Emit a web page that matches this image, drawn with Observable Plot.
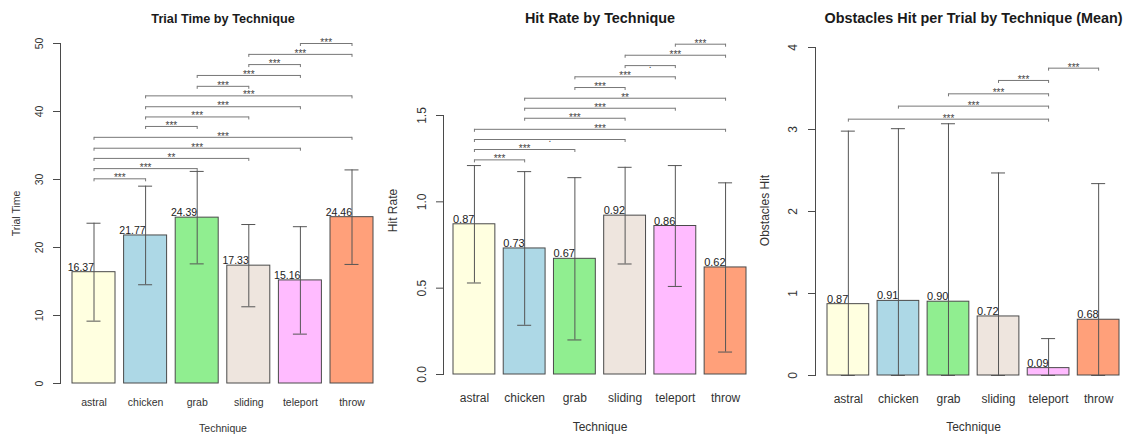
<!DOCTYPE html>
<html>
<head>
<meta charset="utf-8">
<script src="https://cdn.jsdelivr.net/npm/d3@7"></script>
<script src="https://cdn.jsdelivr.net/npm/@observablehq/plot@0.6"></script>
<style>
  html, body { margin: 0; padding: 0; background: #fff; }
  #row { display: flex; width: 1129px; height: 437px; overflow: hidden; }
  #row svg { font-family: "Liberation Sans", Arial, Helvetica, sans-serif; display: block; }
</style>
</head>
<body>
<div id="row"></div>
<script>
// ---- categories & colours ----
const techniques = ["astral", "chicken", "grab", "sliding", "teleport", "throw"];
const barColors = ["#FFFFE0", "#ADD8E6", "#90EE90", "#EEE5DE", "#FFBBFF", "#FFA07A"];

// ---- Trial Time ----
const trialTimeMean = [16.37, 21.77, 24.39, 17.33, 15.16, 24.46];
const trialTimeSD   = [7.2, 7.25, 6.8, 6.05, 7.9, 6.95];
const trialTicks    = [0, 10, 20, 30, 40, 50];
const trialPairA    = ["astral","astral","astral","astral","astral","chicken","chicken","chicken","chicken","grab","grab","sliding","sliding","teleport"];
const trialPairB    = ["chicken","grab","sliding","teleport","throw","grab","sliding","teleport","throw","sliding","teleport","teleport","throw","throw"];
const trialPairY    = [30.1, 31.6, 33.1, 34.6, 36.2, 37.8, 39.2, 40.7, 42.3, 43.7, 45.3, 46.9, 48.4, 50.0];
const trialPairSig  = ["***","***","**","***","***","***","***","***","***","***","***","***","***","***"];

// ---- Hit Rate ----
const hitRateMean = [0.87, 0.73, 0.67, 0.92, 0.86, 0.62];
const hitRateSD   = [0.34, 0.445, 0.47, 0.28, 0.35, 0.49];
const hitTicks    = [0, 0.5, 1.0, 1.5];
const hitPairA    = ["astral","astral","astral","astral","chicken","chicken","chicken","grab","grab","sliding","sliding","teleport"];
const hitPairB    = ["chicken","grab","sliding","throw","sliding","teleport","throw","sliding","teleport","teleport","throw","throw"];
const hitPairY    = [1.243, 1.303, 1.361, 1.42, 1.484, 1.542, 1.6, 1.662, 1.724, 1.789, 1.849, 1.913];
const hitPairSig  = ["***","***",".","***","***","***","**","***","***",".","***","***"];

// ---- Obstacles Hit ----
const obstacleMean = [0.87, 0.91, 0.90, 0.72, 0.09, 0.68];
const obstacleSD   = [2.11, 2.10, 2.17, 1.75, 0.36, 1.66];
const obstacleTicks = [0, 1, 2, 3, 4];
const obstaclePairA = ["astral","chicken","grab","sliding","teleport"];
const obstaclePairB = ["teleport","teleport","teleport","teleport","throw"];
const obstaclePairY = [3.126, 3.285, 3.435, 3.598, 3.748];
const obstaclePairSig = ["***","***","***","***","***"];

const BAR_HALF = 5 / 12; // R barplot: width 1, space 0.2

function makePanel(cfg) {
  const idx = t => techniques.indexOf(t);
  const rows = techniques.map((t, i) => ({
    i, t, m: cfg.means[i],
    lo: Math.max(0, cfg.means[i] - cfg.sds[i]),
    hi: cfg.means[i] + cfg.sds[i],
    c: barColors[i]
  }));
  const br = cfg.pairA.map((a, k) => ({
    a: idx(a), b: idx(cfg.pairB[k]), v: cfg.pairY[k], s: cfg.pairSig[k]
  }));
  const lineCol = "#4a4a4a";
  return Plot.plot({
    width: cfg.width, height: 437,
    marginLeft: cfg.mL, marginRight: cfg.mR, marginTop: cfg.mT, marginBottom: cfg.mB,
    style: {background: "#fff", color: "#333", fontFamily: '"Liberation Sans", Arial, Helvetica, sans-serif'},
    x: {type: "linear", domain: [-BAR_HALF, techniques.length - 1 + BAR_HALF], insetLeft: cfg.inset, label: null},
    y: {domain: cfg.domain, label: null},
    marks: [
      Plot.frame({anchor: "left", stroke: lineCol}),
      Plot.axisY({ticks: cfg.ticks, tickFormat: cfg.fmt, tickSize: 7, tickRotate: -90,
                  tickPadding: cfg.yPad, fontSize: cfg.axFs, stroke: lineCol, label: null}),
      Plot.axisX({ticks: rows.map(d => d.i), tickFormat: i => techniques[i], tickSize: 0,
                  tickPadding: cfg.xPad, fontSize: cfg.axFs, label: null}),
      Plot.rect(rows, {x1: d => d.i - BAR_HALF, x2: d => d.i + BAR_HALF, y1: d => 0, y2: "m",
                       fill: "c", stroke: "#4a4a4a", strokeWidth: 1}),
      Plot.ruleX(rows, {x: "i", y1: "lo", y2: "hi", stroke: "#555", strokeWidth: 1}),
      Plot.ruleY(rows, {y: "hi", x1: "i", x2: "i", insetLeft: -7, insetRight: -7, stroke: "#555"}),
      Plot.ruleY(rows, {y: "lo", x1: "i", x2: "i", insetLeft: -7, insetRight: -7, stroke: "#555"}),
      Plot.text(rows, {x: "i", y: "m", text: d => d.m.toFixed(2), textAnchor: "end",
                       lineAnchor: "bottom", dy: -1.5, fontSize: cfg.valFs, fill: "#222"}),
      // significance brackets
      Plot.link(br, {x1: "a", x2: "b", y1: "v", y2: "v", stroke: "#777", strokeWidth: 1}),
      Plot.ruleX(br, {x: "a", y1: "v", y2: "v", insetTop: 0, insetBottom: -3, stroke: "#777"}),
      Plot.ruleX(br, {x: "b", y1: "v", y2: "v", insetTop: 0, insetBottom: -3, stroke: "#777"}),
      Plot.text(br, {x: d => (d.a + d.b) / 2, y: "v", text: "s", fontSize: cfg.sigFs,
                     lineAnchor: "bottom", dy: 2.5, fill: "#444"}),
      // titles
      Plot.text([cfg.title], {text: d => d, frameAnchor: "top", dx: cfg.inset / 2, dy: cfg.titleY - cfg.mT,
                              fontWeight: "bold", fontSize: cfg.titleFs, lineAnchor: "middle", fill: "#1a1a1a"}),
      Plot.text([cfg.ylab], {text: d => d, frameAnchor: "left", rotate: -90, textAnchor: "middle",
                             lineAnchor: "middle", dx: cfg.ylabX - cfg.mL, dy: cfg.ylabDy, fontSize: cfg.labFs, fill: "#333"}),
      Plot.text(["Technique"], {text: d => d, frameAnchor: "bottom", dx: cfg.inset / 2,
                                dy: cfg.techY - (437 - cfg.mB), lineAnchor: "middle", fontSize: cfg.labFs, fill: "#333"})
    ]
  });
}

const row = document.getElementById("row");

row.appendChild(makePanel({
  width: 376, mL: 60, mR: 3, mT: 43, mB: 54, inset: 12,
  domain: [0, 50], ticks: trialTicks, fmt: d => String(d),
  means: trialTimeMean, sds: trialTimeSD,
  pairA: trialPairA, pairB: trialPairB, pairY: trialPairY, pairSig: trialPairSig,
  title: "Trial Time by Technique", ylab: "Trial Time",
  titleFs: 12.7, axFs: 10.5, labFs: 10.5, valFs: 10.5, sigFs: 10,
  xPad: 15.5, yPad: 11, ylabX: 16, ylabDy: 0, titleY: 18, techY: 428
}));

row.appendChild(makePanel({
  width: 376, mL: 67, mR: 6, mT: 115, mB: 63, inset: 10,
  domain: [0, 1.5], ticks: hitTicks, fmt: d3.format(".1f"),
  means: hitRateMean, sds: hitRateSD,
  pairA: hitPairA, pairB: hitPairB, pairY: hitPairY, pairSig: hitPairSig,
  title: "Hit Rate by Technique", ylab: "Hit Rate",
  titleFs: 14.4, axFs: 12, labFs: 12, valFs: 11, sigFs: 10,
  xPad: 19, yPad: 10.5, ylabX: 17, ylabDy: -34.5, titleY: 17.5, techY: 427
}));

row.appendChild(makePanel({
  width: 377, mL: 63, mR: 10, mT: 47, mB: 62, inset: 12,
  domain: [0, 4], ticks: obstacleTicks, fmt: d => String(d),
  means: obstacleMean, sds: obstacleSD,
  pairA: obstaclePairA, pairB: obstaclePairB, pairY: obstaclePairY, pairSig: obstaclePairSig,
  title: "Obstacles Hit per Trial by Technique (Mean)", ylab: "Obstacles Hit",
  titleFs: 14.4, axFs: 12, labFs: 12, valFs: 11, sigFs: 10,
  xPad: 19, yPad: 12, ylabX: 13, ylabDy: -1, titleY: 18, techY: 427
}));
</script>
</body>
</html>
